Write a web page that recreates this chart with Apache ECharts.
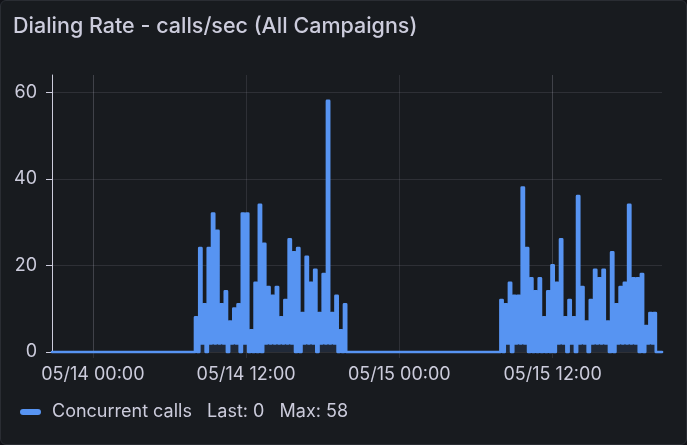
<!DOCTYPE html>
<html>
<head>
<meta charset="utf-8">
<title>Dialing Rate</title>
<script src="https://cdn.jsdelivr.net/npm/echarts@6/dist/echarts.min.js"></script>
<style>
  html, body {margin: 0; padding: 0; background: #111217;}
  #panel {position: absolute; left: 0; top: 0; width: 685px; height: 443px; background: #181b1f; border: 1px solid #2a2d33; border-radius: 6px;}
  #chart {width: 685px; height: 443px;}
</style>
</head>
<body>
<div id="panel"><div id="chart"></div></div>
<script>
var titleText = 'Dialing Rate - calls/sec (All Campaigns)';
var seriesName = 'Concurrent calls';
var yTicks = [0, 20, 40, 60];
var xTicks = [Date.UTC(2024, 4, 14, 0), Date.UTC(2024, 4, 14, 12), Date.UTC(2024, 4, 15, 0), Date.UTC(2024, 4, 15, 12)];

// samples are 10 minutes apart, zero outside the two bursts
var rangeStart = Date.UTC(2024, 4, 13, 20, 48);
var rangeEnd = Date.UTC(2024, 4, 15, 20, 34);
var burst1Start = Date.UTC(2024, 4, 14, 8, 0);
var burst1 = [8,0, 24,2, 11,0, 24,2, 32,2, 28,2, 11,2, 14,0, 7,2, 10,2, 11,0, 32,2, 32,0, 5,0, 16,0, 34,0, 25,2,
  15,2, 13,2, 15,2, 8,2, 12,2, 26,2, 23,0, 24,0, 9,2, 22,2, 16,2, 19,0, 9,2, 18,2, 58,2, 9,2, 13,0, 5,0, 11];
var burst2Start = Date.UTC(2024, 4, 15, 7, 55);
var burst2 = [12,0, 11,2, 16,0, 13,2, 13,2, 38,2, 24,0, 17,0, 14,0, 17,0, 8,0, 14,0, 20,0, 16,2, 26,2, 8,0,
  12,2, 8,0, 36,2, 15,2, 7,0, 12,2, 19,2, 17,2, 19,2, 7,0, 23,0, 11,2, 15,2, 16,2, 34,2, 17,2, 17,0, 18,0, 6,2, 9,2, 9];

var step = 10 * 60 * 1000;
var points = [[rangeStart, 0]];
function addBurst(start, values) {
  points.push([start - step, 0]);
  values.forEach(function (v, i) {
    points.push([start + i * step, v]);
  });
  points.push([start + values.length * step, 0]);
}
addBurst(burst1Start, burst1);
addBurst(burst2Start, burst2);
points.push([rangeEnd, 0]);

var last = points[points.length - 1][1];
var max = Math.max.apply(null, points.map(function (p) { return p[1]; }));
var textColor = '#ccccdc';
var gridColor = 'rgba(204,204,220,0.12)';

var chart = echarts.init(document.getElementById('chart'));
chart.setOption({
  animation: false,
  useUTC: true,
  textStyle: {fontFamily: 'Inter'},
  title: {
    text: titleText,
    left: 7,
    top: 10,
    textStyle: {color: textColor, fontSize: 21.5, fontWeight: 500, fontFamily: 'Inter'}
  },
  legend: {
    left: 19,
    top: 402,
    icon: 'path://M3,0H18A3,3 0 0 1 18,6H3A3,3 0 0 1 3,0Z',
    itemWidth: 21,
    itemHeight: 6,
    itemGap: 0,
    padding: 0,
    formatter: function (name) {
      return name + '   Last: ' + last + '   Max: ' + max;
    },
    textStyle: {color: textColor, fontSize: 18, fontFamily: 'Inter', padding: [0, 0, 0, 6]}
  },
  grid: {left: 51, right: 24, top: 74, bottom: 92},
  xAxis: {
    type: 'time',
    min: rangeStart,
    max: rangeEnd,
    axisLine: {show: false},
    axisTick: {show: true, length: 6, customValues: xTicks, lineStyle: {color: gridColor}},
    splitLine: {show: true, lineStyle: {color: gridColor, width: 1}},
    axisLabel: {
      color: textColor,
      fontSize: 18,
      margin: 14,
      customValues: xTicks,
      hideOverlap: false,
      formatter: '{MM}/{dd} {HH}:{mm}'
    }
  },
  yAxis: {
    type: 'value',
    min: 0,
    max: 64,
    interval: yTicks[1] - yTicks[0],
    axisLine: {show: true, lineStyle: {color: textColor, width: 1}},
    axisTick: {show: true, length: 6, lineStyle: {color: textColor}},
    splitLine: {show: true, showMaxLine: false, lineStyle: {color: gridColor, width: 1}},
    axisLabel: {
      color: textColor,
      fontSize: 18,
      margin: 15,
      showMaxLabel: false
    }
  },
  series: [{
    name: seriesName,
    type: 'line',
    step: 'end',
    data: points,
    showSymbol: false,
    clip: false,
    itemStyle: {color: '#5794f2'},
    lineStyle: {color: '#5794f2', width: 2.7, cap: 'round', join: 'round'},
    areaStyle: {color: '#5794f2', opacity: 0.12}
  }]
});
window.onresize = chart.resize;
</script>
</body>
</html>
